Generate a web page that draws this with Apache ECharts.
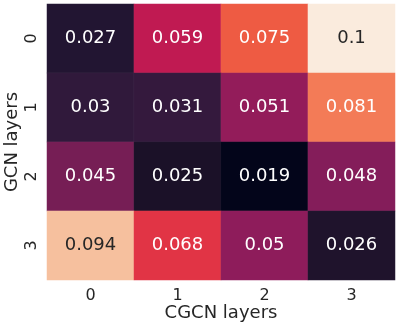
<!DOCTYPE html>
<html>
<head>
<meta charset="utf-8">
<script src="https://cdn.jsdelivr.net/npm/echarts@6/dist/echarts.min.js"></script>
<style>
  html, body { margin:0; padding:0; background:#fff; }
  #chart { width:400px; height:328px; }
</style>
</head>
<body>
<div id="chart"></div>
<script>
// ===== Data
const cgcnLayers = ['0','1','2','3'];   // x axis
const gcnLayers  = ['0','1','2','3'];   // y axis (top to bottom)
const row0 = [0.027, 0.059, 0.075, 0.1];
const row1 = [0.03, 0.031, 0.051, 0.081];
const row2 = [0.045, 0.025, 0.019, 0.048];
const row3 = [0.094, 0.068, 0.05, 0.026];
const rows = [row0, row1, row2, row3];

// ===== rocket-like colormap (position 0..1, colour)
const cmapPos = [0, 0.08, 0.099, 0.142, 0.321, 0.358, 0.389, 0.494, 0.605, 0.691, 0.765, 0.926, 1];
const cmapCol = ['#03051A','#1D1229','#221532','#32193C','#761E55','#841D5A','#901C5B','#C01A52','#E23444','#EE5A43','#F37B56','#F6C09D','#FAEBDD'];

function hex2rgb(h){ return [1,3,5].map(i=>parseInt(h.slice(i,i+2),16)); }
function sampleCmap(t){
  let i = 0;
  while (i < cmapPos.length-2 && t > cmapPos[i+1]) i++;
  const a = hex2rgb(cmapCol[i]), b = hex2rgb(cmapCol[i+1]);
  const f = (t - cmapPos[i]) / (cmapPos[i+1] - cmapPos[i]);
  const c = a.map((v,k)=>Math.round(v + (b[k]-v)*f));
  return `rgb(${c[0]},${c[1]},${c[2]})`;
}
const stops = [];
for (let k=0;k<=100;k++) stops.push(sampleCmap(k/100));

const all = rows.flat();
const vMin = Math.min(...all), vMax = Math.max(...all);

const cells = [];
rows.forEach((r, yi)=>{
  r.forEach((v, xi)=>{
    const dark = v > 0.09;
    cells.push({ value:[xi, yi, v], label:{ color: dark ? '#262626' : '#ffffff' } });
  });
});

const chart = echarts.init(document.getElementById('chart'));
chart.setOption({
  animation:false,
  textStyle:{ fontFamily:'DejaVu Sans' },
  grid:{ left:47, right:5, top:4, bottom:48, outerBoundsMode:'none', containLabel:false },
  xAxis:{
    type:'category', data:cgcnLayers, position:'bottom',
    axisLine:{show:false}, axisTick:{show:false}, splitLine:{show:false},
    axisLabel:{ color:'#262626', fontSize:16, margin:8 },
    name:'CGCN layers', nameLocation:'middle', nameGap:24, nameMoveOverlap:false,
    nameTextStyle:{ color:'#262626', fontSize:18 }
  },
  yAxis:{
    type:'category', data:gcnLayers, inverse:true,
    axisLine:{show:false}, axisTick:{show:false}, splitLine:{show:false},
    axisLabel:{ color:'#262626', fontSize:16, margin:7, rotate:90 },
    name:'GCN layers', nameLocation:'middle', nameGap:26, nameRotate:90, nameMoveOverlap:false,
    nameTextStyle:{ color:'#262626', fontSize:18 }
  },
  visualMap:{
    show:false, type:'continuous', min:vMin, max:vMax, dimension:2,
    inRange:{ color:stops }
  },
  series:[{
    type:'heatmap',
    data:cells,
    label:{ show:true, fontSize:18, formatter:p=>String(p.value[2]) },
    itemStyle:{ borderColor:'rgba(255,255,255,0.08)', borderWidth:0.5 }
  }]
});
</script>
</body>
</html>
